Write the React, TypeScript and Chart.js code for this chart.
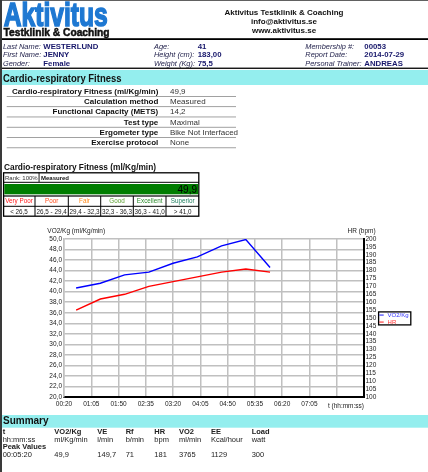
import React, { useEffect, useRef } from 'react';
import { Chart, registerables } from 'chart.js';
Chart.register(...registerables);

// ---- chart data ----
const times = ['00:40', '01:20', '02:00', '02:40', '03:20', '04:00', '04:40', '05:20', '06:00'];
const vo2PerKg = [40.7, 41.6, 43.2, 43.7, 45.4, 46.6, 48.7, 49.9, 44.6];
const heartRate = [155, 162, 165, 170, 173, 176, 179, 181, 179];
const xMinSec = 20;
const xMaxSec = 515;
const xStepSec = 45;
const xLabelledUpTo = 425; // last labelled tick (07:05)
const vo2Min = 20, vo2Max = 50, vo2Step = 2;
const hrMin = 100, hrMax = 200, hrStep = 5;

// ---- report text ----
const infoCol1 = [['Last Name:', 'WESTERLUND'], ['First Name:', 'JENNY'], ['Gender:', 'Female']];
const infoCol2 = [['Age:', '41'], ['Height (cm):', '183,00'], ['Weight (Kg):', '75,5']];
const infoCol3 = [['Membership #:', '00053'], ['Report Date:', '2014-07-29'], ['Personal Trainer:', 'ANDREAS']];
const fitnessRows = [
  ['Cardio-respiratory Fitness (ml/Kg/min)', '49,9'],
  ['Calculation method', 'Measured'],
  ['Functional Capacity (METS)', '14,2'],
  ['Test type', 'Maximal'],
  ['Ergometer type', 'Bike Not Interfaced'],
  ['Exercise protocol', 'None'],
];
const ratingCategories = ['Very Poor', 'Poor', 'Fair', 'Good', 'Excellent', 'Superior'];
const ratingColors = ['#ff1a1a', '#ff4d1a', '#ff8a1a', '#5a9e2e', '#2e8b2e', '#1f7f5f'];
const ratingRanges = ['< 26,5', '26,5 - 29,4', '29,4 - 32,3', '32,3 - 36,3', '36,3 - 41,0', '> 41,0'];
const summaryHeads = ['t', 'VO2/Kg', 'VE', 'Rf', 'HR', 'VO2', 'EE', 'Load'];
const summaryUnits = ['hh:mm:ss', 'ml/Kg/min', 'l/min', 'b/min', 'bpm', 'ml/min', 'Kcal/hour', 'watt'];
const peakValues = ['00:05:20', '49,9', '149,7', '71', '181', '3765', '1129', '300'];

const FONT = '"Liberation Sans", Arial, sans-serif';

const toSec = (s: string) => {
  const [m, ss] = s.split(':').map(Number);
  return m * 60 + ss;
};
const fmt = (v: number) => {
  const m = Math.floor(v / 60);
  const s = Math.round(v % 60);
  return String(m).padStart(2, '0') + ':' + String(s).padStart(2, '0');
};

function ChartBox() {
  const ref = useRef<HTMLCanvasElement | null>(null);
  useEffect(() => {
    if (!ref.current) return;
    const tickFont = { family: FONT, size: 6.5 };
    const chart = new Chart(ref.current, {
      type: 'line',
      data: {
        datasets: [
          {
            label: 'VO2/Kg',
            data: times.map((t, i) => ({ x: toSec(t), y: vo2PerKg[i] })),
            borderColor: '#0000ff',
            borderWidth: 1.4,
            pointRadius: 0,
            tension: 0,
            yAxisID: 'y',
          },
          {
            label: 'HR',
            data: times.map((t, i) => ({ x: toSec(t), y: heartRate[i] })),
            borderColor: '#ff0000',
            borderWidth: 1.4,
            pointRadius: 0,
            tension: 0,
            yAxisID: 'y1',
          },
        ],
      },
      options: {
        animation: false,
        responsive: false,
        maintainAspectRatio: false,
        layout: { padding: { top: 14, left: 0, right: 0, bottom: 0 } },
        plugins: { legend: { display: false }, tooltip: { enabled: false } },
        scales: {
          x: {
            type: 'linear',
            min: xMinSec,
            max: xMaxSec,
            ticks: {
              stepSize: xStepSec,
              autoSkip: false,
              maxRotation: 0,
              padding: 3,
              color: '#222',
              font: tickFont,
              callback: (v: any) => (Number(v) > xLabelledUpTo ? '' : fmt(Number(v))),
            },
            grid: { color: '#c0c0c0', lineWidth: 1.5, drawTicks: false },
            border: { color: '#000', width: 2 },
            afterFit: (s: any) => {
              s.height = 18;
            },
          },
          y: {
            position: 'left',
            min: vo2Min,
            max: vo2Max,
            ticks: {
              stepSize: vo2Step,
              autoSkip: false,
              padding: 2,
              color: '#222',
              font: tickFont,
              callback: (v: any) => Number(v).toFixed(1).replace('.', ','),
            },
            grid: { color: '#c0c0c0', lineWidth: 1.5, drawTicks: false },
            border: { color: '#c0c0c0', width: 1.5 },
            afterFit: (s: any) => {
              s.width = 64;
            },
          },
          y1: {
            position: 'right',
            min: hrMin,
            max: hrMax,
            ticks: { stepSize: hrStep, autoSkip: false, padding: 1.5, color: '#222', font: tickFont },
            grid: { drawOnChartArea: false, drawTicks: false },
            border: { color: '#000', width: 2 },
            afterFit: (s: any) => {
              s.width = 64;
            },
          },
        },
      },
    } as any);
    return () => chart.destroy();
  }, []);
  return (
    <canvas
      ref={ref}
      width={428}
      height={190}
      style={{ position: 'absolute', left: 0, top: 225, width: 428, height: 190, display: 'block' }}
    />
  );
}

export default function App() {
  const cyan = '#94eeee';
  const navy = '#16166a';
  const labelCol = '#1d1d48';
  const rowBase = [48.5, 57.3, 66.1];
  const colX = [0, 35, 68.3, 100.7, 133.3, 166, 199.3];
  const sumX = [2.7, 54.3, 97.3, 125.7, 154.3, 179, 211, 251.7];
  const infoCols: [string[][], number, number][] = [
    [infoCol1, 3, 43.3],
    [infoCol2, 154, 197.7],
    [infoCol3, 305.3, 364.3],
  ];
  return (
    <div
      style={{
        position: 'absolute',
        left: 0,
        top: 0,
        width: 428,
        height: 472,
        overflow: 'hidden',
        background: '#fff',
        fontFamily: FONT,
      }}
    >
      <ChartBox />
      <svg
        width={428}
        height={472}
        style={{ position: 'absolute', left: 0, top: 0, pointerEvents: 'none' }}
        fontFamily={FONT}
      >
        {/* viewer frame */}
        <rect x={0} y={0} width={2} height={472} fill="#3a3a3a" />
        <rect x={0} y={0} width={428} height={0.8} fill="#3a3a3a" />

        {/* logo */}
        <text
          x={3.8}
          y={25.8}
          fontSize={34}
          fontWeight="bold"
          fill="#1e78d2"
          stroke="#1e78d2"
          strokeWidth={1.6}
          textLength={104}
          lengthAdjust="spacingAndGlyphs"
        >
          Aktivitus
        </text>
        <text
          x={3.6}
          y={36.4}
          fontSize={10.5}
          fontWeight="bold"
          fill="#111"
          stroke="#111"
          strokeWidth={0.5}
          textLength={106}
          lengthAdjust="spacingAndGlyphs"
        >
          Testklinik &amp; Coaching
        </text>

        {/* header */}
        <g fontSize={8} fontWeight="bold" fill="#111" textAnchor="middle">
          <text x={284} y={15.4}>Aktivitus Testklinik &amp; Coaching</text>
          <text x={284} y={24.1}>info@aktivitus.se</text>
          <text x={284} y={33}>www.aktivitus.se</text>
        </g>
        <rect x={2} y={38.2} width={426} height={1.8} fill="#000" />

        {/* person info */}
        {infoCols.map(([rows, lx, vx], ci) =>
          rows.map(([l, v], ri) => (
            <g key={ci + '-' + ri}>
              <text x={lx} y={rowBase[ri]} fontSize={7.4} fontStyle="italic" fill={labelCol}>
                {l}
              </text>
              <text x={vx} y={rowBase[ri]} fontSize={7.8} fontWeight="bold" fill={navy}>
                {v}
              </text>
            </g>
          ))
        )}
        <rect x={2} y={67.6} width={426} height={1.3} fill="#000" />

        {/* Cardio-respiratory band */}
        <rect x={2} y={70} width={426} height={15} fill={cyan} />
        <text x={3} y={81.5} fontSize={10.5} fontWeight="bold" fill="#111" textLength={118.5} lengthAdjust="spacingAndGlyphs">
          Cardio-respiratory Fitness
        </text>

        {/* fitness table */}
        {fitnessRows.map(([l, v], i) => {
          const c = 91 + i * 10.28;
          return (
            <g key={'f' + i} fontSize={8}>
              <text x={158.3} y={c + 2.9} textAnchor="end" fontWeight="bold" fill="#111">
                {l}
              </text>
              <text x={170} y={c + 2.9} fill="#333">
                {v}
              </text>
              <rect x={6.7} y={c + 5} width={229.3} height={0.8} fill="#8a8a8a" />
            </g>
          );
        })}

        {/* rating box */}
        <text x={4} y={170} fontSize={9} fontWeight="bold" fill="#111" textLength={152} lengthAdjust="spacingAndGlyphs">
          Cardio-respiratory Fitness (ml/Kg/min)
        </text>
        <rect x={3.6} y={172.8} width={195.2} height={43.4} fill="none" stroke="#000" strokeWidth={1.3} />
        <rect x={3} y={181.8} width={196} height={1} fill="#000" />
        <rect x={38.6} y={172.5} width={0.9} height={9.5} fill="#000" />
        <text x={5} y={179.9} fontSize={6} fill="#333">
          Rank: 100%
        </text>
        <text x={41} y={179.9} fontSize={6} fontWeight="bold" fill="#111">
          Measured
        </text>
        <rect x={4.3} y={184} width={193.9} height={10.3} fill="#007d00" />
        <text x={197} y={192.7} fontSize={10} textAnchor="end" fill="#000">
          49,9
        </text>
        <rect x={3} y={195.4} width={196} height={1.2} fill="#000" />
        <rect x={3} y={205.8} width={196} height={1} fill="#000" />
        {colX.slice(1, 6).map((x, i) => (
          <rect key={'v' + i} x={x - 0.5} y={196} width={1} height={20} fill="#000" />
        ))}
        {ratingCategories.map((c, i) => {
          const cx = ((i === 0 ? 3 : colX[i]) + colX[i + 1]) / 2;
          return (
            <g key={'r' + i} fontSize={6.3} textAnchor="middle">
              <text x={cx} y={203.4} fill={ratingColors[i]}>
                {c}
              </text>
              <text x={cx} y={213.6} fill="#222">
                {ratingRanges[i]}
              </text>
            </g>
          );
        })}

        {/* chart texts */}
        <text x={47.3} y={233.4} fontSize={6.5} fill="#222">
          VO2/Kg (ml/Kg/min)
        </text>
        <text x={375.7} y={233.4} fontSize={6.5} fill="#222" textAnchor="end">
          HR (bpm)
        </text>
        <text x={364} y={407.6} fontSize={6.5} fill="#222" textAnchor="end">
          t (hh:mm:ss)
        </text>
        {/* legend */}
        <rect x={378.6} y={311.9} width={32.2} height={13} fill="#fff" stroke="#000" strokeWidth={1.3} />
        <rect x={379.3} y={314.6} width={4.4} height={0.9} fill="#0000ff" />
        <rect x={379.3} y={321.6} width={4.4} height={0.9} fill="#ff0000" />
        <text x={387.6} y={317.4} fontSize={6} fill="#3333ff">
          VO2/Kg
        </text>
        <text x={387.6} y={324.3} fontSize={6} fill="#ff3333">
          HR
        </text>

        {/* summary */}
        <rect x={2} y={415} width={426} height={12.7} fill={cyan} />
        <text x={3} y={424.4} fontSize={10} fontWeight="bold" fill="#111">
          Summary
        </text>
        {summaryHeads.map((h, i) => (
          <g key={'s' + i} fontSize={7.5} fill="#222">
            <text x={sumX[i]} y={434} fontWeight="bold">
              {h}
            </text>
            <text x={sumX[i]} y={441.6}>
              {summaryUnits[i]}
            </text>
            <text x={sumX[i]} y={457}>
              {peakValues[i]}
            </text>
          </g>
        ))}
        <text x={2.7} y={449.2} fontSize={7.5} fontWeight="bold" fill="#222">
          Peak Values
        </text>
      </svg>
    </div>
  );
}
